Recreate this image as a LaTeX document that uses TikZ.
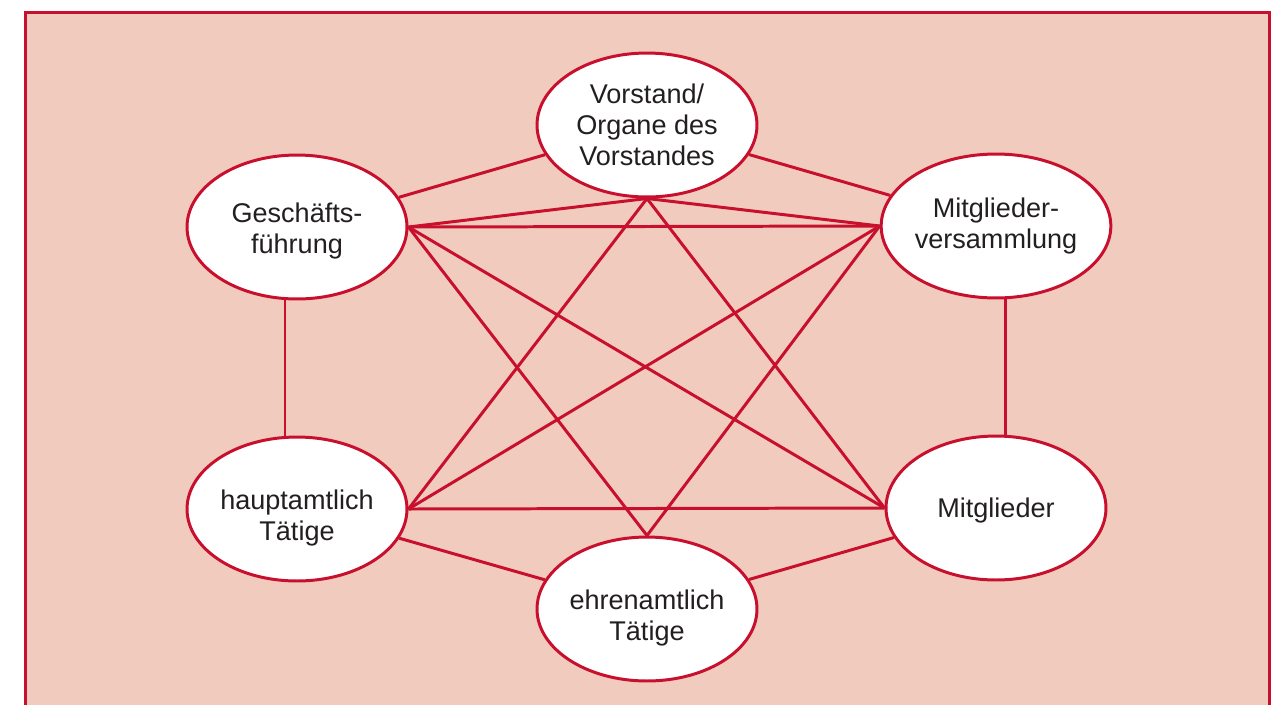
\documentclass[tikz,border=0pt]{standalone}
\usepackage{fontspec}
\setmainfont{Liberation Sans}
\usetikzlibrary{shapes.geometric}
\definecolor{framered}{RGB}{200,16,46}
\definecolor{boxfill}{RGB}{241,204,190}
\definecolor{textgray}{RGB}{35,31,32}
\begin{document}
\begin{tikzpicture}[x=0.02cm, y=-0.02cm, line width=1.7pt, draw=framered]
            \useasboundingbox (0,0) rectangle (1284,704);
            \clip (0,0) rectangle (1284,704);
            \draw[fill=boxfill, line width=2pt] (25.5,12.5) rectangle (1269.5,740);

            \begin{scope}[
                    every node/.style={ellipse, draw, fill=white, text=textgray, align=center,
                        minimum width=4.4cm, minimum height=2.88cm, inner sep=0pt,
                        font=\fontsize{15.4}{17.6}\selectfont},
                    every edge/.style={draw}
                ]

                \node (vor) at (647,125) {Vorstand/\\Organe des\\Vorstandes};
                \node (gf) at (297,227) {\rule{0pt}{16pt}Geschäfts-\\führung};
                \node (mv) at (996,226) {Mitglieder-\\versammlung};
                \node (ha) at (297,509) {\rule{0pt}{21pt}hauptamtlich\\Tätige};
                \node (mi) at (996,508) {\rule{0pt}{14pt}Mitglieder};
                \node (eh) at (647,609) {\rule{0pt}{21pt}ehrenamtlich\\Tätige};
            \end{scope}

            % ring
            \draw (vor) edge (gf);
            \draw (vor) edge (mv);
            \draw ([xshift=-0.24cm]gf.south) edge ([xshift=-0.24cm]ha.north);
            \draw ([xshift=0.18cm]mv.south) edge ([xshift=0.18cm]mi.north);
            \draw (ha) edge (eh);
            \draw (eh) edge (mi);

            % cross lines
            \draw (gf.east) edge (mv.west);
            \draw (gf.east) edge (vor.south);
            \draw (gf.east) edge (mi.west);
            \draw (gf.east) edge (eh.north);
            \draw (ha.east) edge (mi.west);
            \draw (ha.east) edge (vor.south);
            \draw (ha.east) edge (mv.west);
            \draw (vor.south) edge (mv.west);
            \draw (vor.south) edge (mi.west);
            \draw (eh.north) edge (mv.west);
        \end{tikzpicture}
\end{document}
